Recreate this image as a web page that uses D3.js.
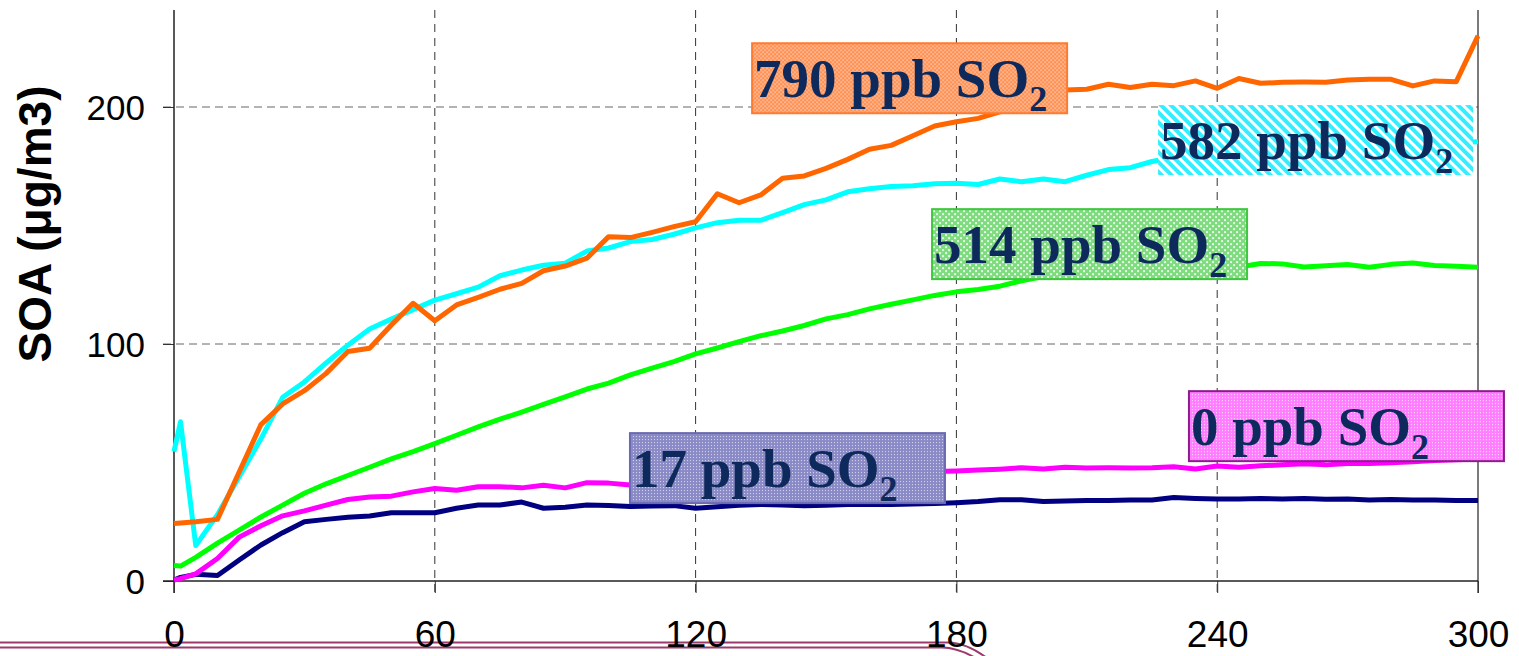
<!DOCTYPE html>
<html>
<head>
<meta charset="utf-8">
<script src="https://cdn.jsdelivr.net/npm/d3@7"></script>
<style>
  body { margin: 0; background: #fff; }
  svg { display: block; }
</style>
</head>
<body>
<svg width="1519" height="656"></svg>
<script>
// sample times (minutes)
var minutes = [0, 1.5, 5, 10, 15, 20, 25, 30, 35, 40, 45, 50, 55, 60, 65, 70, 75, 80, 85, 90,
  95, 100, 105, 110, 115, 120, 125, 130, 135, 140, 145, 150, 155, 160, 165, 170, 175, 180,
  185, 190, 195, 200, 205, 210, 215, 220, 225, 230, 235, 240, 245, 250, 255, 260, 265, 270,
  275, 280, 285, 290, 295, 300];

// SOA (ug/m3) per SO2 level
var so2_17 = [0.4, 1.5, 2.8, 2.3, 8.9, 15.2, 20.4, 25, 26, 26.9, 27.4, 28.8, 28.8, 28.8, 30.7,
  32.1, 32.1, 33.3, 30.7, 31.1, 32.1, 31.9, 31.4, 31.6, 31.8, 30.7, 31.3, 32, 32.3, 32.1, 31.8,
  32, 32.3, 32.3, 32.3, 32.5, 32.7, 33, 33.5, 34.3, 34.3, 33.5, 33.8, 34, 34, 34.2, 34.2, 35.2,
  34.8, 34.6, 34.6, 34.8, 34.6, 34.8, 34.5, 34.6, 34.2, 34.4, 34.2, 34.2, 34, 34];
var so2_0 = [0.4, 1, 3, 9.5, 18.5, 23.3, 27.5, 29.6, 32, 34.4, 35.4, 35.8, 37.6, 39, 38.3, 39.8,
  39.8, 39.3, 40.4, 39.3, 41.5, 41.3, 40.5, 41, 41.8, 42.5, 42.2, 43, 43.5, 43.3, 44, 44.5, 44.3,
  45, 45.5, 45.8, 46.2, 46.4, 46.8, 47.2, 47.8, 47.3, 48, 47.7, 47.8, 47.7, 47.8, 48.2, 47.3,
  48.5, 48, 48.6, 49, 49.5, 49, 49.6, 49.6, 49.9, 50.3, 50.8, 51.2, 51.5];
var so2_514 = [6.5, 6.3, 10, 16, 21.5, 27, 32, 37, 41, 44.5, 48, 51.5, 54.6, 58, 61.5, 65, 68.3,
  71.3, 74.5, 77.7, 81, 83.5, 87, 89.8, 92.6, 95.8, 98.3, 101, 103.5, 105.5, 107.8, 110.6, 112.4,
  114.8, 116.8, 118.6, 120.5, 122, 123, 124.4, 126.7, 128.5, 129.5, 130, 130.5, 131, 131.5, 132,
  132.2, 132.4, 132.5, 134, 133.8, 132.5, 133, 133.5, 132.4, 133.6, 134.2, 133.1, 132.8, 132.4];
var so2_582 = [54.6, 67.2, 15, 28, 44, 60, 77.5, 84, 92, 99.5, 106.3, 110.5, 114.5, 118.5, 121.2,
  124, 128.8, 131.2, 133.2, 134.1, 139.2, 140.5, 143.2, 144.1, 146.3, 149, 151.2, 152.2, 152.2,
  155.4, 158.8, 160.8, 164.2, 165.5, 166.5, 166.8, 167.6, 167.8, 167.3, 169.6, 168.5, 169.6,
  168.5, 171.2, 173.6, 174.4, 177, 178.8, 179.8, 180.5, 181.2, 181.8, 182.2, 182.6, 183, 183.4,
  183.8, 184.2, 184.5, 184.8, 185, 185.3];
var so2_790 = [24.3, 24.5, 25, 26, 46, 66, 74.7, 80.3, 87.6, 96.8, 98.2, 108, 117.2, 109.8, 116.5,
  119.7, 123.1, 125.6, 130.9, 132.9, 136.2, 145.3, 144.9, 147.1, 149.5, 151.6, 163.4, 159.6,
  162.9, 169.9, 170.9, 174.1, 177.9, 182.2, 183.8, 187.9, 192, 193.8, 195.2, 198, 201.5, 204.5,
  207.2, 207.5, 209.6, 208.2, 209.6, 209, 211, 207.9, 212, 210, 210.4, 210.5, 210.4, 211.4,
  211.7, 211.7, 208.9, 211, 210.7, 230];

var seriesColors = ["#000080", "#FF00FF", "#00FF00", "#00FFFF", "#FF6600"];
var seriesValues = [so2_17, so2_0, so2_514, so2_582, so2_790];

// labels: text number, box left (min), box top (SOA)
var labelNums = ["790", "582", "514", "17", "0"];
var labelLeft = [133, 226.4, 174.4, 104.9, 233.5];
var labelTop = [226.9, 200.8, 156.9, 62.4, 80.1];
var labelFill = ["url(#pOrange)", "url(#pCyan)", "url(#pGreen)", "url(#pPurple)", "url(#pPink)"];
var labelStroke = ["#FF7A2E", "none", "#3DC83D", "#6A6AB0", "#8E1A8E"];

var xTicks = [0, 60, 120, 180, 240, 300];
var yTicks = [0, 100, 200];

var svg = d3.select("svg");

var x = d3.scaleLinear().domain([0, 300]).range([174, 1478]);
var y = d3.scaleLinear().domain([0, 240]).range([581, 12.2]);

// patterns
var defs = svg.append("defs");
var p = defs.append("pattern").attr("id", "pOrange").attr("patternUnits", "userSpaceOnUse")
    .attr("width", 4).attr("height", 4);
p.append("rect").attr("width", 4).attr("height", 4).attr("fill", "#FFB38C");
p.append("rect").attr("width", 2).attr("height", 2).attr("fill", "#FF904F");
p.append("rect").attr("x", 2).attr("y", 2).attr("width", 2).attr("height", 2).attr("fill", "#FF904F");

p = defs.append("pattern").attr("id", "pCyan").attr("patternUnits", "userSpaceOnUse")
    .attr("width", 7).attr("height", 7).attr("patternTransform", "rotate(-45)");
p.append("rect").attr("width", 7).attr("height", 7).attr("fill", "#ffffff");
p.append("rect").attr("width", 4).attr("height", 7).attr("fill", "#33EEFF");

p = defs.append("pattern").attr("id", "pGreen").attr("patternUnits", "userSpaceOnUse")
    .attr("width", 6).attr("height", 6);
p.append("rect").attr("width", 6).attr("height", 6).attr("fill", "#7EDB7E");
p.append("rect").attr("x", 1).attr("y", 1).attr("width", 2).attr("height", 2).attr("fill", "#E6FAE6");
p.append("rect").attr("x", 4).attr("y", 4).attr("width", 2).attr("height", 2).attr("fill", "#E6FAE6");

p = defs.append("pattern").attr("id", "pPurple").attr("patternUnits", "userSpaceOnUse")
    .attr("width", 3).attr("height", 3);
p.append("rect").attr("width", 3).attr("height", 3).attr("fill", "#8A8AC6");
p.append("rect").attr("width", 1).attr("height", 1).attr("fill", "#DADAF0");

p = defs.append("pattern").attr("id", "pPink").attr("patternUnits", "userSpaceOnUse")
    .attr("width", 3).attr("height", 3);
p.append("rect").attr("width", 3).attr("height", 3).attr("fill", "#FF7EFF");
p.append("rect").attr("width", 1).attr("height", 1).attr("fill", "#FFE6FF");

// decorative double line at the bottom
svg.append("path")
    .attr("d", "M0,642.5 H948 Q968,642.5 992,662")
    .attr("fill", "none").attr("stroke", "#9B3A6B").attr("stroke-width", 2);
svg.append("path")
    .attr("d", "M0,647.5 H942 Q960,647.5 982,662")
    .attr("fill", "none").attr("stroke", "#9B3A6B").attr("stroke-width", 2);

// grid
svg.append("g").selectAll("line").data(yTicks.filter(function (d) { return d > 0 }))
    .enter().append("line")
    .attr("x1", 163).attr("x2", x(300))
    .attr("y1", function (d) { return y(d) }).attr("y2", function (d) { return y(d) })
    .attr("stroke", "#666").attr("stroke-width", 1).attr("stroke-dasharray", "8,5");
svg.append("g").selectAll("line").data(xTicks.filter(function (d) { return d > 0 && d < 300 }))
    .enter().append("line")
    .attr("x1", function (d) { return x(d) }).attr("x2", function (d) { return x(d) })
    .attr("y1", 10).attr("y2", 593)
    .attr("stroke", "#333").attr("stroke-width", 1).attr("stroke-dasharray", "8,6");
svg.append("line").attr("x1", x(300)).attr("x2", x(300)).attr("y1", 10).attr("y2", 593)
    .attr("stroke", "#333").attr("stroke-width", 1.3);

// axes
var yAxis = svg.append("g").attr("transform", "translate(174,0)")
    .call(d3.axisLeft(y).tickValues(yTicks).tickSize(11).tickPadding(18));
yAxis.select(".domain").remove();
yAxis.selectAll("line").attr("stroke", "#333");
yAxis.selectAll("text").attr("font-family", "Liberation Sans, Arial, sans-serif")
    .attr("font-size", 35).attr("fill", "#000").attr("dy", "0.36em");
svg.append("line").attr("x1", 174).attr("x2", 174).attr("y1", 10).attr("y2", 593)
    .attr("stroke", "#222").attr("stroke-width", 1.5);

var xAxis = svg.append("g").attr("transform", "translate(0,581)")
    .call(d3.axisBottom(x).tickValues(xTicks).tickSize(12).tickPadding(28));
xAxis.select(".domain").remove();
xAxis.selectAll("line").attr("stroke", "#333");
xAxis.selectAll("text").attr("font-family", "Liberation Sans, Arial, sans-serif")
    .attr("font-size", 37).attr("fill", "#000");
svg.append("line").attr("x1", 163).attr("x2", x(300)).attr("y1", 581).attr("y2", 581)
    .attr("stroke", "#222").attr("stroke-width", 1.5);

svg.append("text")
    .attr("transform", "translate(51,224) rotate(-90)")
    .attr("text-anchor", "middle")
    .attr("font-family", "Liberation Sans, Arial, sans-serif")
    .attr("font-weight", "bold").attr("font-size", 46)
    .text("SOA (μg/m3)");

// lines
var line = d3.line()
    .x(function (d, i) { return x(minutes[i]) })
    .y(function (d) { return y(d) });

svg.append("g").selectAll("path").data(seriesValues).enter().append("path")
    .attr("d", function (d) { return line(d) })
    .attr("fill", "none")
    .attr("stroke", function (d, i) { return seriesColors[i] })
    .attr("stroke-width", 5)
    .attr("stroke-linejoin", "round");

// labels
var lab = svg.append("g").selectAll("g").data(labelNums).enter().append("g")
    .attr("transform", function (d, i) { return "translate(" + x(labelLeft[i]) + "," + y(labelTop[i]) + ")" });
lab.append("rect")
    .attr("width", 315).attr("height", 70)
    .attr("fill", function (d, i) { return labelFill[i] })
    .attr("stroke", function (d, i) { return labelStroke[i] })
    .attr("stroke-width", 2);
var t = lab.append("text")
    .attr("x", 2).attr("y", 54)
    .attr("font-family", "Liberation Serif, Times New Roman, serif")
    .attr("font-weight", "bold").attr("font-size", 55)
    .attr("fill", "#0E2A5C");
t.append("tspan").text(function (d) { return d + " ppb SO" });
t.append("tspan").attr("font-size", 36).attr("dy", 14).text("2");
</script>
</body>
</html>
